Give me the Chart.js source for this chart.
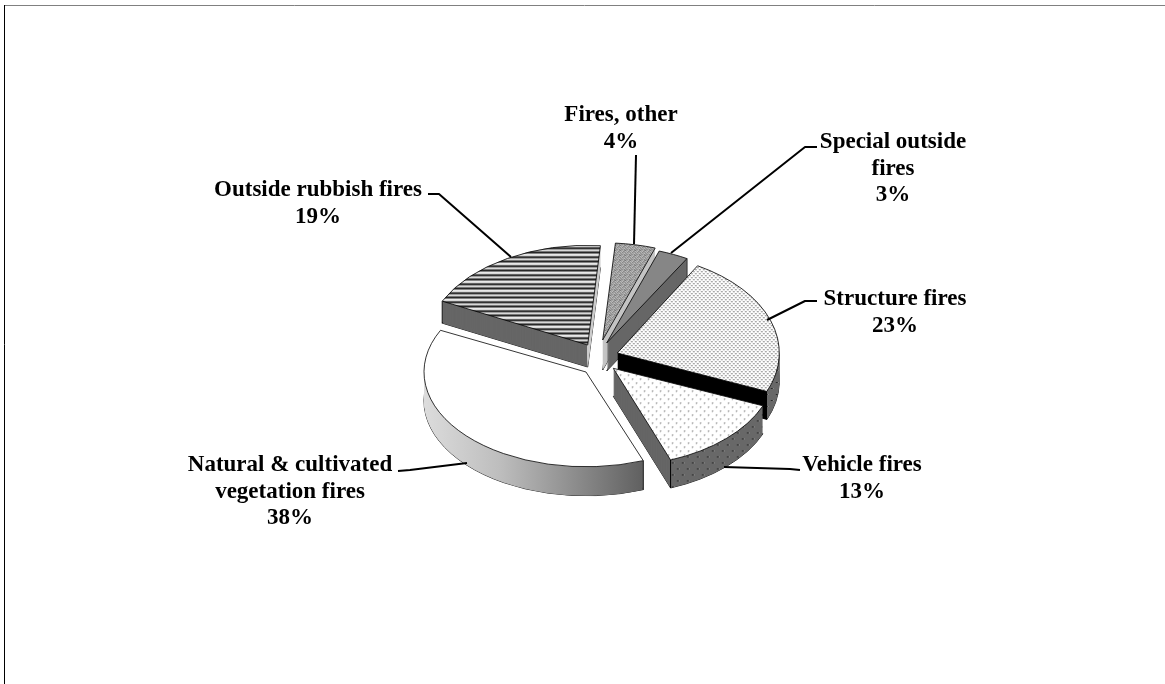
<!DOCTYPE html>
<html><head><meta charset="utf-8">
<style>html,body{margin:0;padding:0;background:#fff}canvas{display:block}</style>
<script src="https://cdn.jsdelivr.net/npm/chart.js@4"></script>
</head><body><canvas id="c" width="1165" height="684"></canvas>
<script>
const categories = ["Fires, other","Special outside fires","Structure fires","Vehicle fires","Natural & cultivated vegetation fires","Outside rubbish fires"];
const shareValues = [4,3,23,13,38,19];

const labelLines = [["Fires, other","4%"],["Special outside","fires","3%"],["Structure fires","23%"],["Vehicle fires","13%"],["Natural & cultivated","vegetation fires","38%"],["Outside rubbish fires","19%"]];
const labelAnchors = [[621,121],[893,148],[895,305],[862,471],[290,471],[318,196]];
const leaderPaths = [
  [[636,155],[634,244]],
  [[817,147],[805,147],[671,253]],
  [[817,301],[805,301],[767,320]],
  [[724,467],[790,469],[800,470]],
  [[398,471],[410,470],[467,463]],
  [[428,194],[439,194],[511,257]]
];
/* exploded-slice displacement on screen, 3D look */
const explodeX = [2.7,6.7,17.3,13.3,-14,-12.3];
const explodeY = [-15,-12,-2,13.3,17,-10];
const depths = [30,28,28,28,29,22];
const squashes = [.6,.6,.62,.605,.585,.615];
const drawOrder = [5,0,1,2,4,3];
const pieCenter = [600,355];
const pieRadius = 162;
const pieRotation = 4.5;

function pat(w,h,paint){
  const c=document.createElement('canvas');c.width=w;c.height=h;
  const x=c.getContext('2d');paint(x);
  return document.getElementById('c').getContext('2d').createPattern(c,'repeat');
}
const rows=(list)=>x=>list.forEach((k,i)=>{x.fillStyle=k;x.fillRect(0,i,1,1)});
const stripes = pat(1,9,rows(["#111","#555","#ddd","#fff","#888","#111","#777","#eee","#aaa"]));
const speckle = pat(5,5,x=>{
  const g=["#666","#bbb","#999","#ccc","#777",
           "#ccc","#888","#ddd","#666","#aaa",
           "#999","#ccc","#666","#bbb","#888",
           "#777","#aaa","#bbb","#999","#ddd",
           "#ccc","#777","#999","#aaa","#777"];
  g.forEach((k,i)=>{x.fillStyle=k;x.fillRect(i%5,Math.floor(i/5),1,1)});
});
const fineDots = pat(4,4,x=>{x.fillStyle="#fff";x.fillRect(0,0,4,4);
  x.fillStyle="#a8a8a8";x.fillRect(0,0,2,1);x.fillRect(2,2,2,1);
  x.fillStyle="#e0e0e0";x.fillRect(0,1,2,1);x.fillRect(2,3,2,1);});
const sparseDots = pat(8,8,x=>{x.fillStyle="#fff";x.fillRect(0,0,8,8);
  x.fillStyle="#8c8c8c";x.fillRect(1,1,1,1);x.fillRect(5,5,1,1);
  x.fillStyle="#c8c8c8";x.fillRect(2,1,1,1);x.fillRect(6,5,1,1);x.fillRect(1,2,1,1);x.fillRect(5,6,1,1);});
const rimDots = pat(10,12,x=>{x.fillStyle="#686868";x.fillRect(0,0,10,12);
  x.fillStyle="#2a2a2a";x.fillRect(1,1,2,1);x.fillRect(6,7,2,1);
  x.fillStyle="#909090";x.fillRect(3,1,1,1);x.fillRect(8,7,1,1);});
const topFills = [speckle,"#868686",fineDots,sparseDots,"#ffffff",stripes];

const pie3d = {
  id:'pie3d',
  beforeDatasetsDraw(chart){
    const ctx=chart.ctx, arcs=chart.getDatasetMeta(0).data;
    const plain=(bg,bw)=>({backgroundColor:bg,borderColor:"#000",borderWidth:bw,borderAlign:'center',borderJoinStyle:'miter',offset:0,spacing:0,circular:true,borderRadius:0,borderDash:[],borderDashOffset:0});
    const paint=(el,i,k,bg,bw)=>{
      const s=squashes[i];
      if(bg instanceof CanvasPattern) bg.setTransform(new DOMMatrix().translate(0,-k/s).scale(1,1/s));
      const keep=el.options;
      el.options=plain(bg,bw);
      ctx.save();
      ctx.translate(pieCenter[0]+explodeX[i],pieCenter[1]+explodeY[i]+k);
      ctx.scale(1,s);
      ctx.translate(-el.x,-el.y);
      el.draw(ctx);
      ctx.restore();
      el.options=keep;
    };
    const rimX=(el,i,a)=>pieCenter[0]+explodeX[i]+el.outerRadius*Math.cos(a);
    const rimY=(el,i,a)=>pieCenter[1]+explodeY[i]+squashes[i]*el.outerRadius*Math.sin(a);
    const wall=(el,i,bg,x0,x1)=>{
      ctx.save();
      ctx.beginPath();ctx.rect(x0,0,x1-x0,684);ctx.clip();
      for(let k=depths[i];k>=1;k--) paint(el,i,k,bg,0);
      ctx.restore();
    };
    const edge=(el,i,a)=>{
      ctx.save();ctx.strokeStyle="#000";ctx.lineWidth=1;
      const x=rimX(el,i,a),y=rimY(el,i,a);
      ctx.beginPath();ctx.moveTo(x,y);ctx.lineTo(x,y+depths[i]);ctx.stroke();ctx.restore();
    };
    drawOrder.forEach(i=>{
      const el=arcs[i];
      const apexX=pieCenter[0]+explodeX[i];
      paint(el,i,depths[i],"#666",1);
      if(i===0) wall(el,i,"#c4c4c4",0,1165);
      if(i===1){wall(el,i,"#666666",0,1165);edge(el,i,el.endAngle);}
      if(i===2){const r=rimX(el,i,el.endAngle);wall(el,i,"#000",0,r);wall(el,i,rimDots,r,1165);}
      if(i===3){const r=rimX(el,i,el.endAngle);wall(el,i,"#666666",0,r);wall(el,i,rimDots,r,1165);edge(el,i,el.endAngle);}
      if(i===4){
        const g=ctx.createLinearGradient(el.x-el.outerRadius,0,el.x+el.outerRadius*Math.cos(el.startAngle),0);
        g.addColorStop(0,"#dcdcdc");g.addColorStop(.35,"#bdbdbd");g.addColorStop(1,"#606060");
        wall(el,i,g,0,1165);edge(el,i,el.startAngle);
      }
      if(i===5){wall(el,i,"#666666",0,apexX);wall(el,i,"#cccccc",apexX,1165);edge(el,i,el.startAngle);}
      paint(el,i,0,topFills[i],1);
    });
    return false;
  },
  afterDraw(chart){
    const ctx=chart.ctx;
    ctx.save();
    ctx.strokeStyle="#808080";ctx.lineWidth=1;
    ctx.beginPath();ctx.moveTo(4,5.5);ctx.lineTo(1165,5.5);ctx.stroke();
    ctx.strokeStyle="#000";
    ctx.beginPath();ctx.moveTo(4.5,5);ctx.lineTo(4.5,684);ctx.stroke();
    ctx.strokeStyle="#000";ctx.lineWidth=2;ctx.lineJoin='round';
    leaderPaths.forEach(p=>{ctx.beginPath();p.forEach((q,n)=>n?ctx.lineTo(q[0],q[1]):ctx.moveTo(q[0],q[1]));ctx.stroke();});
    ctx.fillStyle="#000";ctx.font='bold 23px "Liberation Serif"';ctx.textAlign='center';ctx.textBaseline='alphabetic';
    labelLines.forEach((ls,i)=>ls.forEach((t,n)=>ctx.fillText(t,labelAnchors[i][0],labelAnchors[i][1]+n*26.7)));
    ctx.restore();
  }
};

new Chart(document.getElementById('c'),{
  type:'pie',
  data:{labels:categories,datasets:[{data:shareValues,backgroundColor:topFills,borderColor:"#000",borderWidth:1}]},
  options:{
    responsive:false,animation:false,
    radius:pieRadius,rotation:pieRotation,
    events:[],
    plugins:{legend:{display:false},tooltip:{enabled:false}}
  },
  plugins:[pie3d]
});
</script></body></html>
